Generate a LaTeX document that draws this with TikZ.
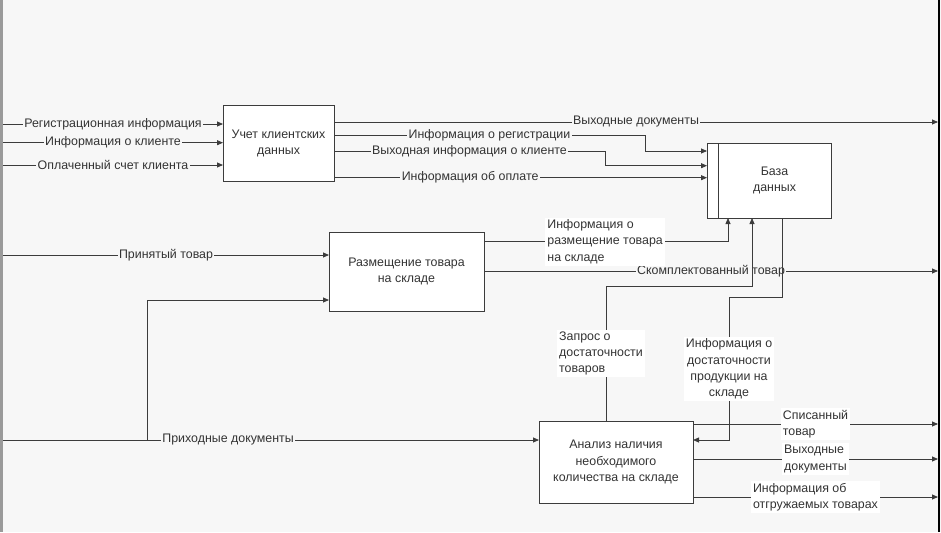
\documentclass[tikz,border=0pt]{standalone}
\usepackage{fontspec}
\setmainfont{Liberation Sans}
\usetikzlibrary{arrows.meta}
\definecolor{idefBack}{HTML}{F7F7F7}
\definecolor{idefLine}{HTML}{3C3C3C}
\definecolor{idefFrame}{HTML}{9A9A9A}

\begin{document}
\begin{tikzpicture}[x=1pt, y=-1pt,
    txt/.style={font=\fontsize{12.4}{16.2}\selectfont, text=black!80},
    func/.style={txt, draw=idefLine, fill=white, line width=1pt, align=center, inner sep=0pt, outer sep=0pt},
    flow/.style={draw=idefLine, line width=0.8pt, -{Triangle[length=6pt,width=5pt]}},
    lbl/.style={txt, fill=idefBack, inner sep=1.5pt},
    note/.style={txt, fill=white, align=left, inner sep=2pt}]
    \fill[idefBack] (0,0) rectangle (941,532);
    \useasboundingbox (0,0) rectangle (941,532);
    \draw[idefFrame, line width=3pt] (1.5,0) -- (1.5,532);
    \draw[black, line width=2pt] (939,0) -- (939,532);

    % functions
    \node[func, minimum width=111pt, minimum height=75pt] (ucet) at (278.5,143.5) {Учет клиентских\\данных};
    \node[func, minimum width=124pt, minimum height=75pt, text width=100pt] (baza) at (769,180.5) {\hspace*{11pt}База\\\hspace*{11pt}данных};
    \draw[idefLine, line width=1pt] ([xshift=11pt]baza.north west) -- ([xshift=11pt]baza.south west);
    \node[func, minimum width=155pt, minimum height=79pt] (razm) at (406.5,271.5) {Размещение товара\\на складе};
    \node[func, minimum width=154pt, minimum height=82pt] (analiz) at (616,462) {Анализ наличия\\необходимого\\количества на складе};

    % free ends
    \coordinate (i1) at (3,124);
    \coordinate (i2) at (3,142.7);
    \coordinate (i3) at (3,165);
    \coordinate (i4) at (3,255);
    \coordinate (i5) at (3,440);
    \coordinate (br) at (147,440);
    \coordinate (o1) at (938,122);
    \coordinate (o2) at (938,271);
    \coordinate (o3) at (938,424);
    \coordinate (o4) at (938,459);
    \coordinate (o5) at (938,497);

    \draw[flow] (i1) -- node[lbl] {Регистрационная информация} (ucet.west |- i1);
    \draw[flow] (i2) -- node[lbl] {Информация о клиенте} (ucet.west |- i2);
    \draw[flow] (i3) -- node[lbl] {Оплаченный счет клиента} (ucet.west |- i3);

    \draw[flow] (ucet.east |- o1) -- node[lbl] {Выходные документы} (o1);
    \draw[flow] (ucet.east |- 0,135) -- node[lbl] {Информация о регистрации} (645,135) |- (baza.west |- 0,151);
    \draw[flow] (ucet.east |- 0,151) -- node[lbl] {Выходная информация о клиенте} (605,151) |- (baza.west |- 0,165.7);
    \draw[flow] (ucet.east |- 0,177.7) -- node[lbl, pos=0.365] {Информация об оплате} (baza.west |- 0,177.7);

    \draw[flow] (i4) -- node[lbl] {Принятый товар} (razm.west |- i4);
    \draw[flow] (i5) -- node[lbl, pos=0.42] {Приходные документы} (analiz.west |- i5);
    \draw[flow] (br) |- (razm.west |- 0,300);

    \draw[flow] (razm.east |- o2) -- node[lbl] {Скомплектованный товар} (o2);
    \draw[flow] (razm.east |- 0,241.7) -- node[note, pos=0.25, anchor=west] {Информация о\\размещение товара\\на складе} (728,241.7) -- (baza.south -| 728,0);

    \draw[flow] (analiz.north -| 606,0) -- node[note, xshift=-5pt] {Запрос о\\достаточности\\товаров} (606,286) -| (baza.south -| 752,0);
    \draw[flow] (baza.south -| 782,0) |- (729,297.7) -- node[note, align=center] {Информация о\\достаточности\\продукции на\\складе} (729,440) -- (analiz.east |- 0,440);

    \draw[flow] (analiz.east |- o3) -- node[note] {Списанный\\товар} (o3);
    \draw[flow] (analiz.east |- o4) -- node[note] {Выходные\\документы} (o4);
    \draw[flow] (analiz.east |- o5) -- node[note] {Информация об\\отгружаемых товарах} (o5);
\end{tikzpicture}
\end{document}
